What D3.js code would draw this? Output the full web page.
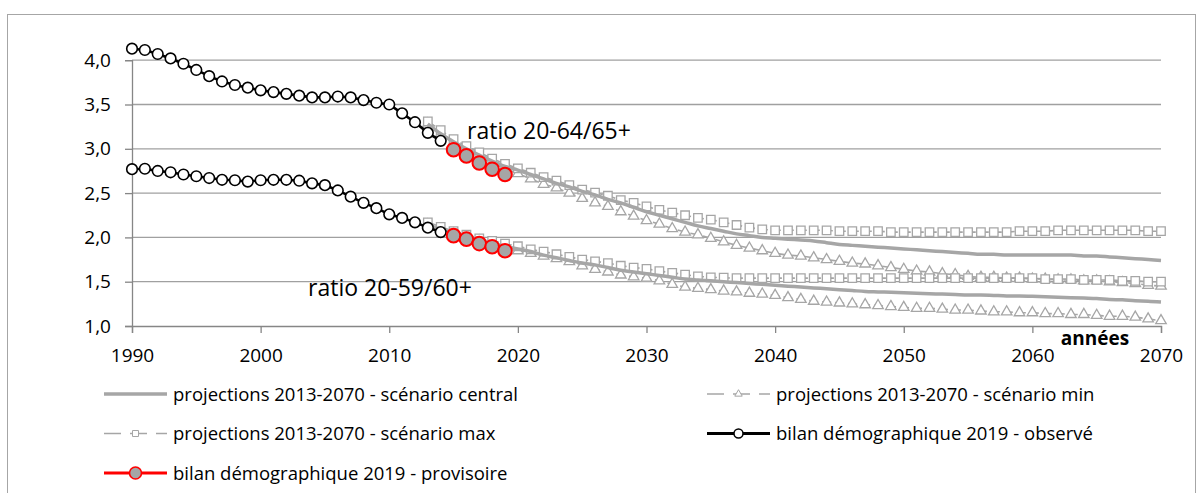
<!DOCTYPE html>
<html><head><meta charset="utf-8">
<script src="https://cdn.jsdelivr.net/npm/d3@7"></script>
<style>
html,body{margin:0;padding:0;background:#fff;}
svg{display:block;font-family:"Open Sans","Noto Sans",sans-serif;}
</style></head>
<body><svg id="c" width="1203" height="493"></svg>
<script>
// ---- data ----
const obsYears = d3.range(1990, 2015);
const obsUpper = [4.13,4.115,4.07,4.02,3.96,3.89,3.82,3.76,3.72,3.69,3.66,3.64,3.62,3.60,3.58,3.58,3.59,3.58,3.55,3.52,3.50,3.40,3.30,3.18,3.09];
const obsLower = [2.77,2.775,2.75,2.735,2.71,2.69,2.67,2.65,2.645,2.63,2.645,2.65,2.65,2.64,2.61,2.59,2.53,2.46,2.39,2.33,2.26,2.22,2.17,2.11,2.06];
const provYears = [2015,2016,2017,2018,2019];
const provUpper = [2.99,2.92,2.84,2.77,2.71];
const provLower = [2.02,1.98,1.93,1.895,1.85];
const projYears = d3.range(2013, 2071);
const centralUpper = [3.28,3.17,3.08,3.00,2.93,2.86,2.80,2.76,2.71,2.66,2.61,2.57,2.52,2.48,2.43,2.39,2.34,2.29,2.25,2.21,2.17,2.13,2.10,2.07,2.04,2.02,2.00,1.99,1.98,1.97,1.96,1.94,1.92,1.91,1.90,1.89,1.88,1.87,1.86,1.85,1.84,1.83,1.82,1.81,1.81,1.80,1.80,1.80,1.80,1.80,1.80,1.79,1.79,1.78,1.77,1.76,1.75,1.74];
const maxUpper = [3.31,3.21,3.11,3.03,2.96,2.89,2.83,2.78,2.73,2.68,2.64,2.59,2.54,2.505,2.47,2.42,2.39,2.35,2.31,2.28,2.25,2.22,2.20,2.17,2.14,2.11,2.09,2.08,2.08,2.08,2.08,2.08,2.07,2.07,2.07,2.07,2.06,2.06,2.06,2.06,2.06,2.06,2.06,2.06,2.06,2.06,2.07,2.07,2.07,2.08,2.08,2.08,2.08,2.08,2.08,2.08,2.07,2.07];
const minUpper = [3.28,3.17,3.07,2.99,2.91,2.84,2.78,2.72,2.66,2.60,2.56,2.50,2.44,2.39,2.35,2.29,2.24,2.19,2.15,2.10,2.06,2.03,1.99,1.95,1.91,1.88,1.85,1.82,1.80,1.79,1.77,1.75,1.73,1.71,1.70,1.68,1.66,1.64,1.62,1.61,1.59,1.58,1.56,1.55,1.55,1.54,1.54,1.53,1.53,1.52,1.52,1.51,1.51,1.50,1.49,1.48,1.46,1.45];
const centralLower = [2.14,2.09,2.04,2.00,1.96,1.93,1.90,1.87,1.84,1.80,1.77,1.74,1.71,1.69,1.66,1.63,1.61,1.59,1.57,1.55,1.53,1.52,1.51,1.50,1.49,1.48,1.47,1.46,1.45,1.44,1.43,1.42,1.41,1.40,1.39,1.385,1.38,1.375,1.37,1.365,1.36,1.355,1.35,1.35,1.345,1.34,1.34,1.335,1.33,1.325,1.32,1.315,1.31,1.30,1.295,1.285,1.28,1.27];
const maxLower = [2.17,2.12,2.07,2.03,1.99,1.96,1.93,1.90,1.865,1.84,1.81,1.78,1.75,1.73,1.71,1.68,1.66,1.645,1.62,1.60,1.58,1.56,1.55,1.545,1.54,1.54,1.54,1.54,1.54,1.54,1.54,1.54,1.54,1.54,1.54,1.54,1.54,1.54,1.54,1.54,1.54,1.54,1.54,1.54,1.54,1.54,1.54,1.54,1.53,1.53,1.53,1.52,1.52,1.52,1.51,1.51,1.50,1.50];
const minLower = [2.14,2.09,2.04,2.00,1.96,1.92,1.89,1.85,1.82,1.79,1.76,1.726,1.68,1.64,1.61,1.576,1.556,1.54,1.51,1.47,1.44,1.425,1.41,1.395,1.385,1.37,1.36,1.345,1.32,1.30,1.28,1.27,1.26,1.25,1.24,1.23,1.22,1.21,1.20,1.20,1.19,1.18,1.18,1.17,1.16,1.16,1.15,1.15,1.14,1.14,1.13,1.13,1.12,1.11,1.11,1.10,1.08,1.06];
const xTicks = [1990,2000,2010,2020,2030,2040,2050,2060,2070];
const yTicks = [1.0,1.5,2.0,2.5,3.0,3.5,4.0];
const legendLabels = [
  "projections 2013-2070 - scénario central",
  "projections 2013-2070 - scénario min",
  "projections 2013-2070 - scénario max",
  "bilan démographique 2019 - observé",
  "bilan démographique 2019 - provisoire"
];
const annotUpper = "ratio 20-64/65+";
const annotLower = "ratio 20-59/60+";
const xTitle = "années";

// ---- drawing ----
const svg = d3.select("#c");
const GRID = "#a0a0a0", PROJ = "#a6a6a6";
const x = d3.scaleLinear().domain([1990, 2070]).range([132, 1161]);
const y = d3.scaleLinear().domain([1, 4]).range([326, 60.2]);

svg.append("rect").attr("x", 7.5).attr("y", 14.5).attr("width", 1188).attr("height", 520)
  .attr("fill", "none").attr("stroke", "#a6a6a6").attr("stroke-width", 1);

// grid
svg.append("g").selectAll("line").data(yTicks.filter(v => v > 1)).join("line")
  .attr("x1", x(1990)).attr("x2", x(2070)).attr("y1", d => y(d)).attr("y2", d => y(d))
  .attr("stroke", GRID).attr("stroke-width", 1.3);

// axes
const yAxis = d3.axisLeft(y).tickValues(yTicks).tickSize(7).tickPadding(14)
  .tickFormat(d => d3.format(".1f")(d).replace(".", ","));
const gy = svg.append("g").attr("transform", `translate(${x(1990)},0)`).call(yAxis);
const xAxis = d3.axisBottom(x).tickValues(xTicks).tickSize(7).tickPadding(16).tickFormat(d3.format("d"));
const gx = svg.append("g").attr("transform", `translate(0,${y(1)})`).call(xAxis);
[gx, gy].forEach(g => {
  g.select(".domain").attr("stroke", "#868686").attr("stroke-width", 1.3);
  g.selectAll(".tick line").attr("stroke", "#868686").attr("stroke-width", 1.3);
  g.selectAll("text").attr("fill", "#000").style("font-size", "19px").style("font-family", '"Open Sans",sans-serif');
});
gy.selectAll("text").attr("x", -21);

svg.append("text").attr("x", 1095).attr("y", 345).attr("text-anchor", "middle")
  .style("font-size", "19px").style("font-weight", "bold").text(xTitle);

const line = d3.line().x(d => x(d[0])).y(d => y(d[1]));
const zipY = (yrs, vals) => yrs.map((yr, i) => [yr, vals[i]]);

const sq = d3.symbol().type(d3.symbolSquare).size(72);
const tri = d3.symbol().type(d3.symbolTriangle).size(48);

function dashed(vals, symGen) {
  const data = zipY(projYears, vals);
  svg.append("path").datum(data).attr("d", line).attr("fill", "none")
    .attr("stroke", PROJ).attr("stroke-width", 1.6).attr("stroke-dasharray", "9,4");
  svg.append("g").selectAll("path").data(data).join("path")
    .attr("transform", d => `translate(${x(d[0])},${y(d[1])})`)
    .attr("d", symGen).attr("fill", "#fff").attr("stroke", PROJ).attr("stroke-width", 1.3);
}
function central(vals) {
  svg.append("path").datum(zipY(projYears, vals)).attr("d", line.curve(d3.curveMonotoneX)).attr("fill", "none")
    .attr("stroke", PROJ).attr("stroke-width", 3.5);
  line.curve(d3.curveLinear);
}
dashed(minUpper, tri); dashed(minLower, tri);
dashed(maxUpper, sq); dashed(maxLower, sq);
central(centralUpper); central(centralLower);

function observed(vals) {
  const data = zipY(obsYears, vals);
  svg.append("path").datum(data).attr("d", line).attr("fill", "none").attr("stroke", "#000").attr("stroke-width", 2.6);
  svg.append("g").selectAll("circle").data(data).join("circle")
    .attr("cx", d => x(d[0])).attr("cy", d => y(d[1])).attr("r", 5.3)
    .attr("fill", "#fff").attr("stroke", "#000").attr("stroke-width", 1.6);
}
function provisional(vals) {
  const data = zipY(provYears, vals);
  svg.append("path").datum(data).attr("d", line).attr("fill", "none").attr("stroke", "#ff0000").attr("stroke-width", 2.6);
  svg.append("g").selectAll("circle").data(data).join("circle")
    .attr("cx", d => x(d[0])).attr("cy", d => y(d[1])).attr("r", 6.8)
    .attr("fill", "#a6a6a6").attr("stroke", "#ff0000").attr("stroke-width", 2);
}
observed(obsUpper); observed(obsLower);
provisional(provUpper); provisional(provLower);

svg.append("text").attr("x", 467).attr("y", 139).style("font-size", "23px").text(annotUpper);
svg.append("text").attr("x", 308).attr("y", 296).style("font-size", "23px").text(annotLower);

// legend
const leg = [
  {lx: 104, ly: 394, type: "central"},
  {lx: 707, ly: 394, type: "min"},
  {lx: 104, ly: 433.5, type: "max"},
  {lx: 707, ly: 433.5, type: "obs"},
  {lx: 104, ly: 473, type: "prov"}
];
const lg = svg.append("g");
leg.forEach((L, i) => {
  const g = lg.append("g").attr("transform", `translate(${L.lx},${L.ly})`);
  const w = 63;
  if (L.type === "central") {
    g.append("line").attr("x1", 0).attr("x2", w).attr("stroke", PROJ).attr("stroke-width", 3.5);
  } else if (L.type === "min" || L.type === "max") {
    g.append("line").attr("x1", 0).attr("x2", w).attr("stroke", PROJ).attr("stroke-width", 1.6).attr("stroke-dasharray", "17,9");
    g.append("path").attr("transform", `translate(${w/2},0)`)
      .attr("d", d3.symbol().type(L.type === "min" ? d3.symbolTriangle : d3.symbolSquare).size(L.type === "min" ? 24 : 36)())
      .attr("fill", "#fff").attr("stroke", PROJ).attr("stroke-width", 1);
  } else if (L.type === "obs") {
    g.append("line").attr("x1", 0).attr("x2", w).attr("stroke", "#000").attr("stroke-width", 3);
    g.append("circle").attr("cx", w/2).attr("r", 4.5).attr("fill", "#fff").attr("stroke", "#000").attr("stroke-width", 1.5);
  } else {
    g.append("line").attr("x1", 0).attr("x2", w).attr("stroke", "#ff0000").attr("stroke-width", 3);
    g.append("circle").attr("cx", w/2).attr("r", 6).attr("fill", "#a6a6a6").attr("stroke", "#ff0000").attr("stroke-width", 1.6);
  }
  g.append("text").attr("x", w + 6).attr("y", 6.5).style("font-size", "18.5px").text(legendLabels[i]);
});
</script></body></html>
